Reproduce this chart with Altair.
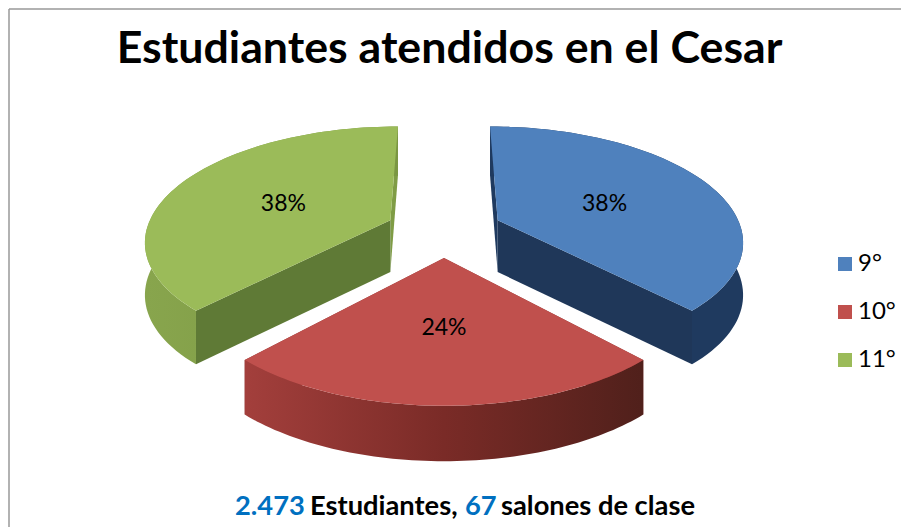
import math
import altair as alt
import pandas as pd

CATEGORIES = ["9°", "10°", "11°"]
SHARES = [38, 24, 38]
TOP_COLORS = ["#4f81bd", "#c0504d", "#9bbb59"]
TITLE = "Estudiantes atendidos en el Cesar"
FOOT_TEXT = ["2.473", "Estudiantes,", "67", "salones de clase"]
FOOT_COLORS = ["#0070c0", "#000000", "#0070c0", "#000000"]
FOOT_X = [227, 302, 457, 493]

FONT = "Lato"
W, H = 893, 519
CX, CY = 436, 222      # pie centre inside the plot
A, B = 244.0, 112.4    # pixels per pie radius
K, KD = 0.167, 0.05    # perspective
E = 0.24               # explosion
DEPTH = 52.0 / B


def project(X, Y, z=0.0):
    w = 1 + K * Y
    return X / w, Y / w - DEPTH * z / (1 + KD * Y)


def grad(*stops):
    return alt.LinearGradient(
        gradient="linear", x1=0, y1=0, x2=1, y2=0,
        stops=[alt.GradientStop(color=c, offset=o) for o, c in stops],
    )


total = sum(SHARES)
slices = []
acc = 0
for cat, share in zip(CATEGORIES, SHARES):
    a0 = 2 * math.pi * acc / total
    a1 = 2 * math.pi * (acc + share) / total
    acc += share
    mid = (a0 + a1) / 2
    slices.append(dict(cat=cat, a0=a0, a1=a1, mid=mid, ox=E * math.sin(mid), oy=E * math.cos(mid)))


def pt(s, r, a, z=0.0):
    return project(s["ox"] + r * math.sin(a), s["oy"] + r * math.cos(a), z)


def arc(s, z=0.0, rev=False):
    n = 72
    seq = [s["a0"] + (s["a1"] - s["a0"]) * i / n for i in range(n + 1)]
    if rev:
        seq = seq[::-1]
    return [pt(s, 1, a, z) for a in seq]


def frame(points, cat=None):
    return pd.DataFrame(
        [dict(px=p[0], py=p[1], o=i, serie=cat) for i, p in enumerate(points)]
    )


x_scale = alt.Scale(domain=[-CX / A, (W - CX) / A], range=[0, W], nice=False, zero=False)
y_scale = alt.Scale(domain=[(CY - H) / B, CY / B], range=[H, 0], nice=False, zero=False)
X = alt.X("px:Q", scale=x_scale, axis=None)
Y = alt.Y("py:Q", scale=y_scale, axis=None)
ORD = alt.Order("o:Q")


def side(points, fill):
    return alt.Chart(frame(points)).mark_line(fill=fill, strokeWidth=0, interpolate="linear").encode(
        x=X, y=Y, order=ORD
    )


layers = []
SIDE_STYLE = [
    ("#1f3a5f", "#1f3759", "#1f3a5f"),
    ("#8c3634", "#8c3634", grad((0, "#a33f3c"), (0.5, "#7a2b27"), (1, "#50201b"))),
    ("#7f9c45", "#5f7a36", grad((0, "#88a54d"), (1, "#7a9642"))),
]
for s, (far_cut, near_cut, rim) in zip(slices, SIDE_STYLE):
    apex0 = pt(s, 0, 0)
    apex1 = pt(s, 0, 0, 1)
    # cut faces: the one not facing the viewer first
    cuts = [s["a0"], s["a1"]]
    fills = [far_cut, near_cut]
    if s["cat"] == CATEGORIES[2]:
        cuts = cuts[::-1]
    for a, f in zip(cuts, fills):
        layers.append(side([apex0, pt(s, 1, a), pt(s, 1, a, 1), apex1], f))
    layers.append(side(arc(s) + arc(s, 1, True), rim))

tops = pd.concat(
    [frame([pt(s, 0, 0)] + arc(s), s["cat"]) for s in slices], ignore_index=True
)
layers.append(
    alt.Chart(tops).mark_line(strokeWidth=0).encode(
        x=X, y=Y, order=ORD,
        fill=alt.Fill(
            "serie:N",
            scale=alt.Scale(domain=CATEGORIES, range=TOP_COLORS),
            sort=CATEGORIES,
            legend=alt.Legend(
                title=None, orient="none", legendX=825, legendY=244,
                symbolType="square", symbolSize=196, symbolStrokeWidth=0,
                labelFont=FONT, labelFontSize=24, labelColor="#000000",
                rowPadding=24, labelOffset=1, values=CATEGORIES,
            ),
        ),
    )
)

labels = pd.DataFrame(
    [
        dict(px=pt(s, 0.5, s["mid"])[0], py=pt(s, 0.5, s["mid"])[1], t=f"{v}%")
        for s, v in zip(slices, SHARES)
    ]
)
layers.append(
    alt.Chart(labels).mark_text(font=FONT, fontSize=23, color="#000000", baseline="middle", dy=3).encode(
        x=X, y=Y, text="t:N"
    )
)

for txt, col, xp in zip(FOOT_TEXT, FOOT_COLORS, FOOT_X):
    layers.append(
        alt.Chart(pd.DataFrame({"t": [txt]})).mark_text(
            font=FONT, fontSize=27.3, fontWeight="bold", color=col, align="left", baseline="alphabetic"
        ).encode(x=alt.value(xp), y=alt.value(507), text="t:N")
    )

# frame of the picture
layers.append(
    alt.Chart(pd.DataFrame({"a": [0]})).mark_rule(color="#999999", strokeWidth=1.5).encode(
        x=alt.value(1), y=alt.value(1), y2=alt.value(H)
    )
)
layers.append(
    alt.Chart(pd.DataFrame({"a": [0]})).mark_rule(color="#999999", strokeWidth=1.5).encode(
        y=alt.value(1), x=alt.value(1), x2=alt.value(W)
    )
)

chart = (
    alt.layer(*layers)
    .properties(
        width=W,
        height=H,
        padding=0,
        autosize=alt.AutoSizeParams(type="none"),
        background="#ffffff",
        title=alt.TitleParams(
            TITLE, font=FONT, fontSize=44.7, fontWeight="bold", color="#000000",
            anchor="middle", frame="group", baseline="alphabetic", dx=-5, dy=104,
        ),
    )
    .configure_view(stroke=None)
)
chart.save("out.html", embed_options={"renderer": "svg", "actions": False})
